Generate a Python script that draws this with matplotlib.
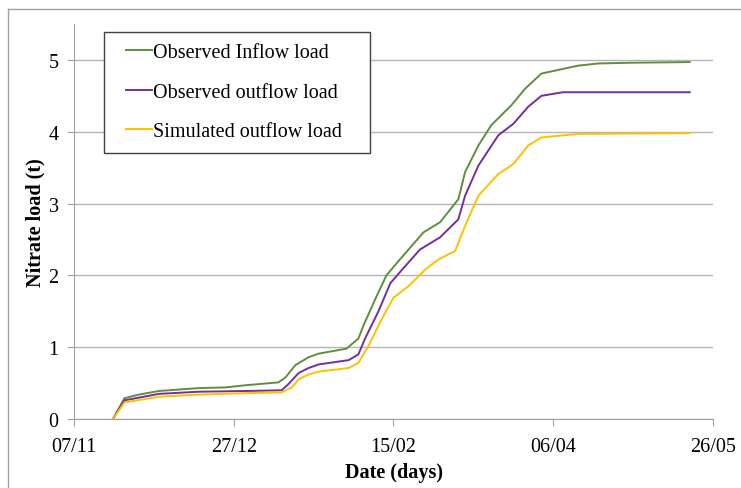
import numpy as np
import matplotlib
matplotlib.use("Agg")
import matplotlib.pyplot as plt
import matplotlib.dates as mdates
from matplotlib.lines import Line2D
from matplotlib.patches import Rectangle

# days after 07/11
start = np.datetime64("2010-11-07")

days_in = [12.2, 15.8, 20.3, 26.6, 39, 47.4, 53.7, 64, 66.2, 69.3, 73.4, 76.6, 85.3, 89, 90.6,
           94.3, 97.8, 101.6, 104.7, 109.4, 114.6, 120.3, 122.4, 126.6, 130.6, 136.9, 141.2,
           146.3, 157.8, 164, 173.4, 192.7]
load_in = [0, 0.29, 0.34, 0.39, 0.43, 0.44, 0.47, 0.51, 0.58, 0.75, 0.86, 0.91, 0.98, 1.12, 1.3,
           1.67, 2.0, 2.2, 2.36, 2.6, 2.74, 3.06, 3.44, 3.81, 4.09, 4.37, 4.6,
           4.81, 4.92, 4.95, 4.96, 4.97]

days_out = [12.2, 15.8, 26.6, 39, 53.7, 65, 67.2, 70.3, 73.4, 76.6, 86, 89, 91.2, 95.3, 99,
            102.5, 108.3, 114.6, 120.3, 122.4, 126.6, 132.8, 137.5, 142.2, 146.3, 153, 192.7]
load_out = [0, 0.26, 0.35, 0.38, 0.39, 0.40, 0.49, 0.64, 0.71, 0.76, 0.82, 0.9, 1.13, 1.5, 1.89,
            2.07, 2.36, 2.53, 2.78, 3.11, 3.53, 3.95, 4.11, 4.35, 4.5, 4.55, 4.55]

days_sim = [12.2, 15.8, 26.6, 39, 53.7, 65, 68.2, 70.3, 73.4, 76.6, 86, 89, 92.2, 96.3, 100,
            104.7, 109.9, 114, 119.3, 122.4, 126.6, 132.8, 137.5, 142.2, 146.3, 157.8, 192.7]
load_sim = [0, 0.23, 0.31, 0.34, 0.36, 0.37, 0.44, 0.55, 0.62, 0.66, 0.71, 0.78, 1.02, 1.39, 1.69,
            1.85, 2.08, 2.22, 2.34, 2.69, 3.11, 3.41, 3.55, 3.81, 3.92, 3.97, 3.98]

labels = ["Observed Inflow load", "Observed outflow load", "Simulated outflow load"]
colors = ["#5f8f3e", "#7030a0", "#ffc000"]


def to_dates(d):
    return start + np.round(np.array(d) * 24).astype("timedelta64[h]")


plt.rcParams["font.family"] = ["Liberation Serif", "DejaVu Serif"]

W, H = 741, 489
fig = plt.figure(figsize=(W / 100, H / 100), dpi=100)
ax = fig.add_axes([74 / W, 69 / H, 639 / W, 395 / H])

series = [(days_in, load_in), (days_out, load_out), (days_sim, load_sim)]
for (d, v), c, lab in zip(series, colors, labels):
    ax.plot(to_dates(d), v, color=c, lw=1.4, label=lab)

ax.set_ylim(0, 5.5)
ax.set_yticks([0, 1, 2, 3, 4, 5])
ax.set_xlim(start, start + np.timedelta64(200, "D"))
ax.set_xticks([start + np.timedelta64(50 * i, "D") for i in range(5)])
ax.xaxis.set_major_formatter(mdates.DateFormatter("%d/%m"))

ax.grid(axis="y", color="#b4b4b4", lw=1)
ax.set_axisbelow(True)
for s in ["top", "right"]:
    ax.spines[s].set_visible(False)
for s in ["left", "bottom"]:
    ax.spines[s].set_color("#a0a0a0")
ax.tick_params(axis="both", colors="#a0a0a0", labelcolor="black", labelsize=14.5, length=5)
ax.tick_params(axis="y", pad=6)
ax.tick_params(axis="x", pad=8)

ax.set_xlabel("Date (days)", fontsize=14.5, fontweight="bold", labelpad=4)
ax.set_ylabel("Nitrate load (t)", fontsize=14.5, fontweight="bold", labelpad=2)

# legend box drawn separately (wider side padding than matplotlib's frame)
fig.add_artist(Rectangle((104 / W, 1 - 154 / H), 266 / W, 121 / H, transform=fig.transFigure,
                         facecolor="white", edgecolor="#404040", lw=1.0, zorder=5))
leg = fig.legend(loc="center left", bbox_to_anchor=(126 / W, 1 - 93 / H), fontsize=14.5,
                 frameon=False, handlelength=1.3, handletextpad=0.05, labelspacing=1.0,
                 borderpad=0, borderaxespad=0)
leg.set_zorder(6)

# outer chart border (top and left visible)
fig.add_artist(Line2D([8 / W, 8 / W], [0, 1 - 10 / H], color="#a0a0a0", lw=1))
fig.add_artist(Line2D([8 / W, 1], [1 - 10 / H, 1 - 10 / H], color="#a0a0a0", lw=1))

fig.savefig("out.png", dpi=100)
